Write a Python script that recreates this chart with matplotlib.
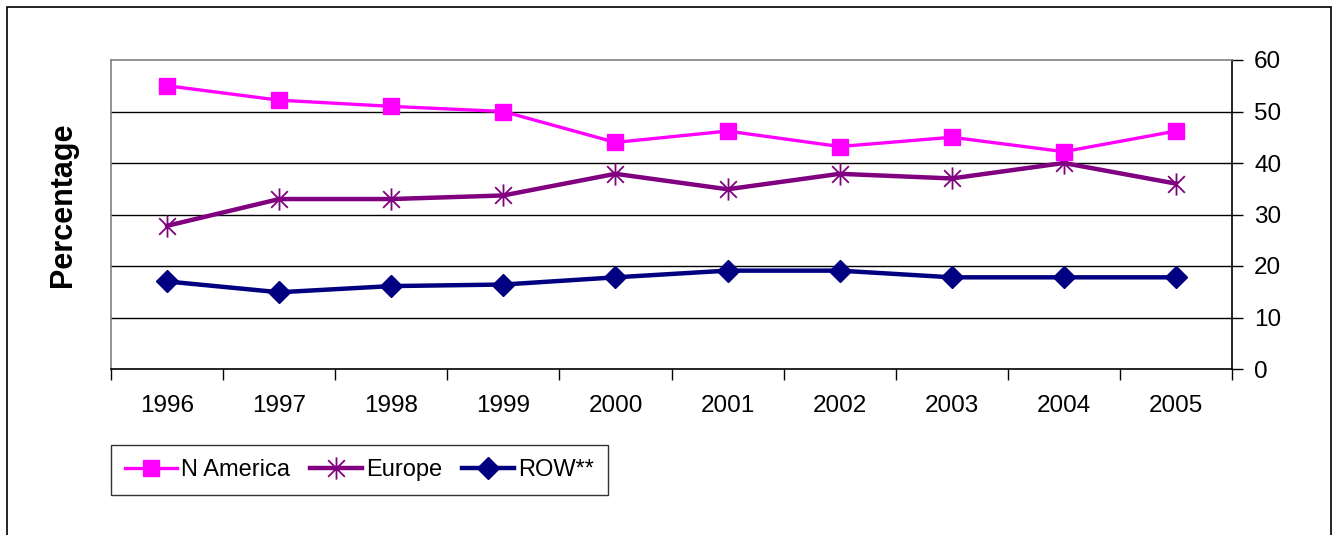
import matplotlib
matplotlib.use("Agg")
import matplotlib.pyplot as plt
from matplotlib.path import Path
from matplotlib.patches import Rectangle

plt.rcParams['font.family'] = ['Liberation Sans', 'DejaVu Sans']

years = ['1996', '1997', '1998', '1999', '2000', '2001', '2002', '2003', '2004', '2005']
n_america = [55, 52.2, 51, 50, 44, 46.2, 43.2, 45, 42.2, 46.2]
europe = [27.8, 33, 33, 33.7, 37.9, 34.9, 37.9, 37, 40, 36]
row = [17, 14.9, 16.1, 16.4, 17.8, 19.1, 19.1, 17.8, 17.8, 17.8]
yticks = [0, 10, 20, 30, 40, 50, 60]

fig = plt.figure(figsize=(13.33, 5.35), dpi=100)
ax = fig.add_axes([111/1333, 1-369/535, (1232-111)/1333, (369-60)/535])

x = list(range(len(years)))

# asterisk marker: vertical line plus X
ast = Path([(0, -1), (0, 1), (-0.75, -0.75), (0.75, 0.75), (-0.75, 0.75), (0.75, -0.75)],
           [Path.MOVETO, Path.LINETO, Path.MOVETO, Path.LINETO, Path.MOVETO, Path.LINETO])

ax.plot(x, n_america, color='#FF00FF', lw=2.4, marker='s', ms=11, mec='#FF00FF', mfc='#FF00FF',
        label='N America', zorder=5)
ax.plot(x, europe, color='#800080', lw=3.2, marker=ast, ms=16, mec='#800080', mew=1.3,
        label='Europe', zorder=4)
ax.plot(x, row, color='#000080', lw=3.2, marker='D', ms=11, mec='#000080', mfc='#000080',
        label='ROW**', zorder=4)

ax.set_xlim(-0.5, len(years) - 0.5)
ax.set_ylim(0, 60)
ax.set_yticks(yticks)
ax.yaxis.tick_right()
ax.tick_params(axis='y', direction='out', length=8, width=1, labelsize=17.5, pad=8, color='black')
ax.set_xticks([i - 0.5 for i in range(len(years) + 1)], minor=False)
ax.set_xticklabels([])
ax.set_xticks(x, minor=True)
ax.set_xticklabels(years, minor=True)
ax.tick_params(axis='x', which='major', direction='out', length=8, width=1, color='black')
ax.tick_params(axis='x', which='minor', length=0, labelsize=17.5, pad=19)

for v in yticks[1:-1]:
    ax.axhline(v, color='black', lw=1, zorder=1)

ax.spines['top'].set_color('#808080')
ax.spines['left'].set_color('#808080')
ax.spines['right'].set_color('black')
ax.spines['bottom'].set_color('black')
for s in ax.spines.values():
    s.set_linewidth(1.2)

fig.text(63/1333, 1-205/535, 'Percentage', rotation=90, fontsize=22, fontweight='bold',
         ha='center', va='center')

leg = fig.legend(loc='lower left', bbox_to_anchor=(111/1333, 1-495/535, 497/1333, 50/535),
                 ncol=3, mode='expand', fontsize=17, frameon=True, fancybox=False,
                 handlelength=2.2, handletextpad=0.15, borderaxespad=0, columnspacing=1.0,
                 borderpad=0.6)
leg.get_frame().set_edgecolor('black')
leg.get_frame().set_linewidth(1)

fig.patches.append(Rectangle((7/1333, -0.1), (1331-7)/1333, 1.1 - 7/535, transform=fig.transFigure,
                             fill=False, edgecolor='black', lw=1.2))

fig.savefig('out.png', dpi=100)
